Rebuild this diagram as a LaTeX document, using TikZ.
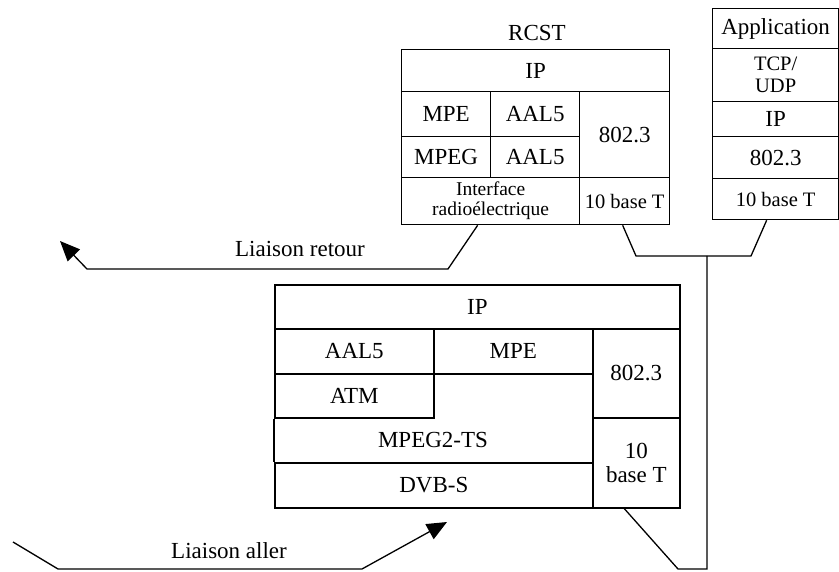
\documentclass[tikz,border=0pt]{standalone}
\usepackage{fontspec}
\setmainfont{Liberation Serif}
\usetikzlibrary{arrows.meta}
\begin{document}
\begin{tikzpicture}[x=1pt,y=-1pt,
  cell/.style={draw, line width=1.3pt, anchor=north west, inner sep=0pt, align=center, font=\fontsize{23}{24}\selectfont},
  bigcell/.style={cell, line width=1.7pt},
  small/.style={font=\fontsize{20.5}{22}\selectfont},
  wire/.style={line width=1.3pt},
  link/.style={line width=1.3pt, -{Triangle[length=20pt,width=17pt]}},
  lbl/.style={font=\fontsize{23}{24}\selectfont}]
\useasboundingbox (0,0) rectangle (839,572);
% RCST
\node[lbl] (rcst) at (537,33) {RCST};
\node[cell, minimum width=268pt, minimum height=42pt] (ip1) at (401,49) {IP};
\node[cell, minimum width=89pt, minimum height=45pt] (mpe1) at (401,91) {MPE};
\node[cell, minimum width=89pt, minimum height=45pt] (aal1) at (490,91) {AAL5};
\node[cell, minimum width=89pt, minimum height=41pt] (mpeg1) at (401,136) {MPEG};
\node[cell, minimum width=89pt, minimum height=41pt] (aal1b) at (490,136) {AAL5};
\node[cell, minimum width=90pt, minimum height=86pt] (eth1) at (579,91) {802.3};
\node[cell, minimum width=178pt, minimum height=47pt, font=\fontsize{19.5}{20}\selectfont] (radio) at (401,177) {Interface\\radioélectrique};
\node[cell, small, minimum width=90pt, minimum height=47pt] (tb1) at (579,177) {10 base T};
% Application
\node[cell, minimum width=126pt, minimum height=40pt] (app) at (712,8) {Application};
\node[cell, small, minimum width=126pt, minimum height=53pt] (tcp) at (712,48) {TCP/\\UDP};
\node[cell, minimum width=126pt, minimum height=35pt] (ip2) at (712,101) {IP};
\node[cell, minimum width=126pt, minimum height=42pt] (eth2) at (712,136) {802.3};
\node[cell, small, minimum width=126pt, minimum height=41pt] (tb2) at (712,178) {10 base T};
% Lower stack
\node[bigcell, minimum width=405pt, minimum height=44pt] (ip3) at (274,284) {IP};
\node[bigcell, minimum width=159pt, minimum height=45pt] (aal3) at (274,328) {AAL5};
\node[bigcell, minimum width=159pt, minimum height=45pt] (mpe3) at (433,328) {MPE};
\node[bigcell, minimum width=159pt, minimum height=44pt] (atm3) at (274,373) {ATM};
\node[bigcell, minimum width=87pt, minimum height=89pt] (eth3) at (592,328) {802.3};
\node[bigcell, minimum width=87pt, minimum height=90pt] (tb3) at (592,417) {10\\base T};
\node[bigcell, minimum width=318pt, minimum height=45pt] (dvb) at (274,462) {DVB-S};
\node[lbl] (mpegts) at (433,440) {MPEG2-TS};
\draw[line width=1.7pt] (atm3.south west) -- (dvb.north west);
% Connectors
\coordinate (c1) at (636,256);
\coordinate (c2) at (751,256);
\coordinate (j1) at (707,256);
\coordinate (j2) at (707,569);
\coordinate (c3) at (678,569);
\draw[wire] ([xshift=-2pt]tb1.south) -- (c1) -- (c2) -- ([xshift=-9pt]tb2.south);
\draw[wire] (j1) -- (j2) -- (c3) -- ([xshift=-12pt]tb3.south);
% Liaison retour
\coordinate (r1) at (448,269);
\coordinate (r2) at (87,269);
\coordinate (r3) at (60,241);
\draw[link] ([xshift=-13pt]radio.south) -- (r1) -- (r2) -- (r3);
\node[lbl] (lr) at (300,249) {Liaison retour};
% Liaison aller
\coordinate (a0) at (13,542);
\coordinate (a1) at (58,569);
\coordinate (a2) at (362,569);
\coordinate (a3) at (447,522);
\draw[link] (a0) -- (a1) -- (a2) -- (a3);
\node[lbl] (la) at (229,551) {Liaison aller};
\end{tikzpicture}
\end{document}
